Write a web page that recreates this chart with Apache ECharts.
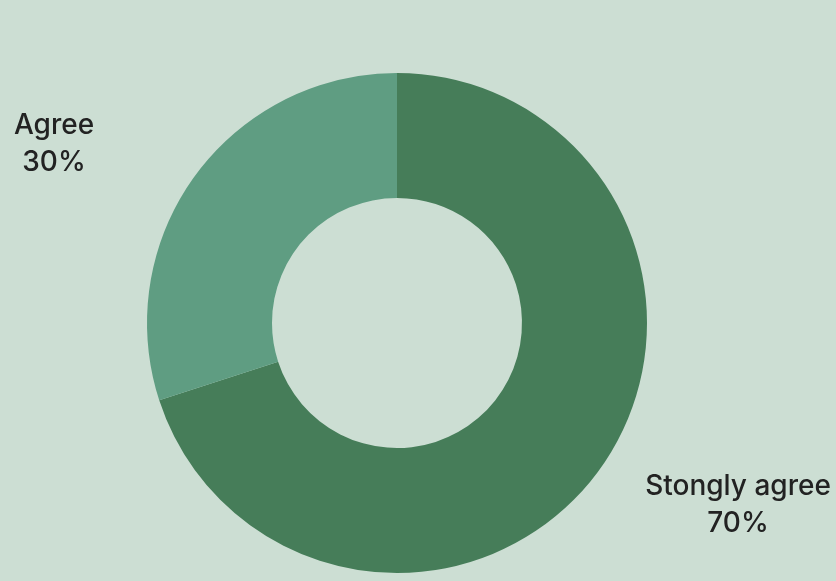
<!DOCTYPE html>
<html>
<head>
<meta charset="utf-8">
<script src="https://cdn.jsdelivr.net/npm/echarts@6/dist/echarts.min.js"></script>
<style>
html,body{margin:0;padding:0;background:#ccded3;}
#chart{width:836px;height:581px;}
</style>
</head>
<body>
<div id="chart"></div>
<script>
const categories = ['Stongly agree', 'Agree'];
const values = [70, 30];
const colors = ['#467d59', '#5f9d82'];
const labelPos = [[738, 505], [54, 144]];

const chart = echarts.init(document.getElementById('chart'), null, {renderer: 'canvas'});
chart.setOption({
  backgroundColor: '#ccded3',
  animation: false,
  series: [{
    type: 'pie',
    center: [397, 323],
    radius: [125, 250],
    startAngle: 90,
    clockwise: true,
    silent: true,
    data: categories.map((c, i) => ({name: c, value: values[i], itemStyle: {color: colors[i]}})),
    label: {
      show: true,
      position: 'outside',
      formatter: p => p.name + '\n' + Math.round(p.percent) + '%',
      fontFamily: 'Inter',
      fontSize: 28,
      fontWeight: 500,
      lineHeight: 37,
      color: '#222222',
      align: 'center',
      overflow: 'none',
      edgeDistance: 0
    },
    labelLine: {show: false},
    labelLayout: function (params) {
      const p = labelPos[params.dataIndex];
      return {x: p[0], y: p[1], align: 'center', verticalAlign: 'middle'};
    }
  }]
});
</script>
</body>
</html>
